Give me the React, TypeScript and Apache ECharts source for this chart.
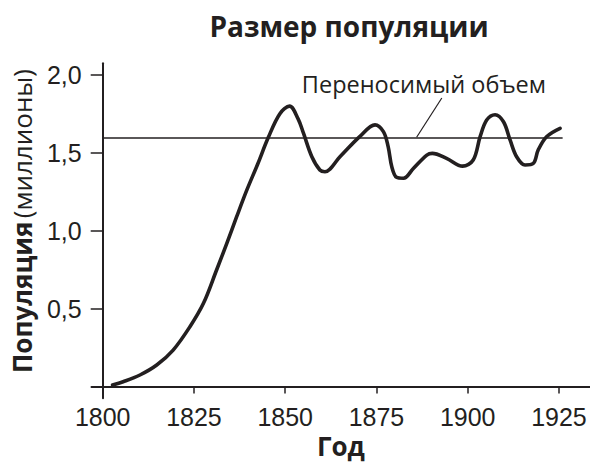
import React, { useEffect, useRef } from 'react';
import * as echarts from 'echarts';

// Population curve (year, millions)
const years = [
  1802.7, 1805.6, 1810.2, 1814.8, 1819.3, 1823.9, 1827.6, 1831.2, 1834.0, 1836.7,
  1839.5, 1842.5, 1845.3, 1848.5, 1851.2, 1853.5, 1855.0, 1857.3, 1859.5, 1860.9,
  1865.0, 1870.4, 1874.6, 1876.9, 1878.2, 1879.2, 1880.5, 1882.4, 1885.1, 1888.8,
  1890.3, 1894.2, 1898.6, 1901.5, 1903.4, 1905.2, 1907.5, 1909.8, 1911.6, 1913.4,
  1915.7, 1918.0, 1919.3, 1921.6, 1925.3,
];
const population = [
  0.01, 0.031, 0.074, 0.138, 0.234, 0.384, 0.534, 0.748, 0.919, 1.09,
  1.262, 1.43, 1.595, 1.75, 1.8, 1.72, 1.626, 1.475, 1.39, 1.379,
  1.475, 1.604, 1.68, 1.636, 1.54, 1.411, 1.343, 1.337, 1.4, 1.486,
  1.497, 1.465, 1.415, 1.454, 1.604, 1.711, 1.745, 1.7, 1.583, 1.475,
  1.422, 1.433, 1.518, 1.604, 1.658,
];

const xTickYears = [1800, 1825, 1850, 1875, 1900, 1925];
const yTickValues = [0, 0.5, 1.0, 1.5, 2.0];
const yLabelValues = [0.5, 1.0, 1.5, 2.0];

const capacityValue = 1.6;
const capacitySpan = [1800, 1926];
const leaderStart = [1886, 1.6];
const leaderEnd = [1892.9, 1.852];
const annotationAnchor = [1888, 1.945];

const titleText = 'Размер популяции';
const xName = 'Год';
const yNameBold = 'Популяция';
const yNameRegular = '(миллионы)';
const annotationText = 'Переносимый объем';

const X_MIN = 1797;
const X_MAX = 1933.5;
const Y_MIN = -0.075;
const Y_MAX = 2.075;

export default function App() {
  const ref = useRef<HTMLDivElement>(null);

  useEffect(() => {
    const chart = echarts.init(ref.current!, null, { renderer: 'svg' });
    const ink = '#231f20';
    const gridLeft = 91.75;
    const pxPerYear = (590 - gridLeft) / (X_MAX - X_MIN);

    chart.setOption({
      animation: false,
      grid: {
        left: gridLeft,
        right: 0,
        top: 63.3,
        bottom: 65.8,
        containLabel: false,
        outerBoundsMode: 'none',
      },
      xAxis: {
        type: 'value',
        min: X_MIN,
        max: X_MAX,
        axisLine: { onZero: true, lineStyle: { color: ink, width: 2 } },
        axisTick: { show: true, length: 7, lineStyle: { color: ink, width: 1.5 }, customValues: xTickYears },
        axisLabel: {
          customValues: xTickYears,
          fontSize: 25,
          fontFamily: 'Liberation Sans',
          color: ink,
          margin: 6,
          formatter: (v: number) => String(Math.round(v)),
        },
        splitLine: { show: false },
        name: xName,
        nameLocation: 'middle',
        nameGap: 35,
        nameMoveOverlap: false,
        nameTextStyle: { fontFamily: 'Open Sans', fontWeight: 'bold', fontSize: 26, lineHeight: 26, color: ink },
      },
      yAxis: {
        type: 'value',
        min: Y_MIN,
        max: Y_MAX,
        offset: -(1800 - X_MIN) * pxPerYear,
        axisLine: { show: true, onZero: false, lineStyle: { color: ink, width: 2 } },
        axisTick: { show: true, length: 12, lineStyle: { color: ink, width: 1.5 }, customValues: yTickValues },
        axisLabel: {
          customValues: yLabelValues,
          fontSize: 25,
          fontFamily: 'Liberation Sans',
          color: ink,
          margin: 21,
          formatter: (v: number) => v.toFixed(1).replace('.', ','),
        },
        splitLine: { show: false },
      },
      series: [
        {
          type: 'line',
          data: years.map((y, i) => [y, population[i]]),
          smooth: 0.35,
          symbol: 'none',
          emphasis: { disabled: true },
          lineStyle: { color: ink, width: 3.6, cap: 'round', join: 'round' },
          markLine: {
            silent: true,
            symbol: 'none',
            label: { show: false },
            emphasis: { disabled: true },
            lineStyle: { color: ink, width: 1.5, type: 'solid' },
            data: [
              [{ coord: [capacitySpan[0], capacityValue] }, { coord: [capacitySpan[1], capacityValue] }],
              [{ coord: leaderStart, lineStyle: { width: 1.2, color: ink, type: 'solid' } }, { coord: leaderEnd }],
            ],
          },
        },
      ],
    });

    const anchor = chart.convertToPixel({ gridIndex: 0 }, annotationAnchor) as number[];

    chart.setOption({
      graphic: [
        {
          id: 'title',
          type: 'text',
          x: 349,
          y: 26,
          style: {
            text: titleText,
            fontFamily: 'Open Sans',
            fontWeight: 'bold',
            fontSize: 28,
            fill: ink,
            align: 'center',
            verticalAlign: 'middle',
          },
        },
        {
          id: 'yname',
          type: 'text',
          x: 22,
          y: 221,
          rotation: Math.PI / 2,
          style: {
            text: `{b|${yNameBold}} {r|${yNameRegular}}`,
            align: 'center',
            verticalAlign: 'middle',
            fill: ink,
            rich: {
              b: { fontFamily: 'Open Sans', fontWeight: 'bold', fontSize: 26, fill: ink, color: ink },
              r: { fontFamily: 'Open Sans', fontWeight: 'normal', fontSize: 26, fill: ink, color: ink },
            },
          },
        },
        {
          id: 'anno',
          type: 'text',
          x: anchor[0],
          y: anchor[1],
          style: {
            text: annotationText,
            fontFamily: 'Open Sans',
            fontSize: 23.5,
            fill: ink,
            align: 'center',
            verticalAlign: 'middle',
          },
        },
      ],
    });

    return () => chart.dispose();
  }, []);

  return (
    <div
      ref={ref}
      style={{ position: 'fixed', left: 0, top: 0, width: 590, height: 464, background: '#fff' }}
    />
  );
}
